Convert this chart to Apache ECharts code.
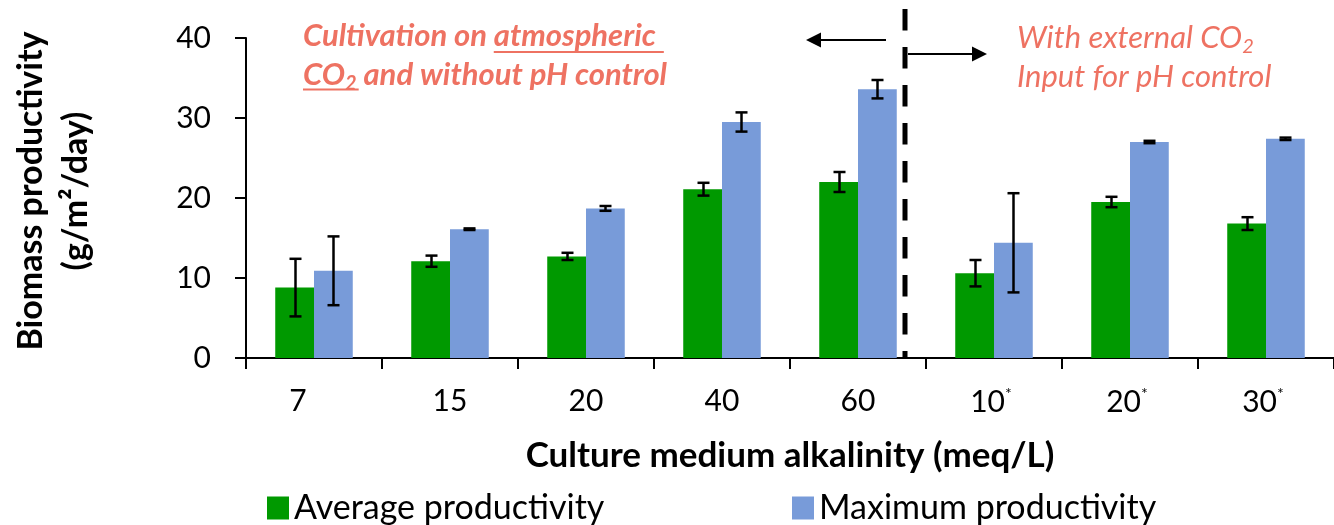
<!DOCTYPE html>
<html>
<head>
<meta charset="utf-8">
<script src="https://cdn.jsdelivr.net/npm/echarts@6/dist/echarts.min.js"></script>
<style>
  html, body { margin: 0; padding: 0; background: #fff; }
  #chart { width: 1334px; height: 525px; }
</style>
</head>
<body>
<div id="chart"></div>
<script>
// Alkalinity levels (meq/L); starred ones were run with external CO2 input
const categories = ['7', '15', '20', '40', '60', '10*', '20*', '30*'];
// Biomass productivity, g/m2/day
const avgProductivity = [8.8, 12.1, 12.7, 21.1, 22.0, 10.6, 19.5, 16.8];
const avgError = [3.6, 0.7, 0.45, 0.8, 1.25, 1.65, 0.65, 0.8];
const maxProductivity = [10.9, 16.1, 18.7, 29.5, 33.6, 14.4, 27.0, 27.4];
const maxError = [4.3, 0.1, 0.3, 1.2, 1.15, 6.2, 0.15, 0.15];
const yTicks = [0, 10, 20, 30, 40];

const FONT = 'Lato';
const GREEN = '#009900';
const BLUE = '#789BD9';
const SALMON = '#EE7262';
const CAT_GAP = 0.43;

const chart = echarts.init(document.getElementById('chart'), null, { renderer: 'canvas' });

// Whiskers drawn on the same band positions as the grouped bars
function errorSeries(values, errors, side) {
  return {
    type: 'custom',
    silent: true,
    z: 10,
    data: values.map((v, i) => [i, v, errors[i]]),
    encode: { x: 0, y: 1 },
    renderItem(params, api) {
      const i = api.value(0), v = api.value(1), e = api.value(2);
      const band = api.size([1, 0])[0];
      const bw = band * (1 - CAT_GAP) / 2;
      const cx = Math.round(api.coord([i, 0])[0] + side * bw / 2) + 0.5;
      const top = api.coord([i, v + e])[1];
      const bot = api.coord([i, v - e])[1];
      const cap = 6;
      const st = { stroke: '#000', lineWidth: 2.5 };
      return {
        type: 'group',
        children: [
          { type: 'line', shape: { x1: cx, y1: top, x2: cx, y2: bot }, style: st },
          { type: 'line', shape: { x1: cx - cap, y1: top, x2: cx + cap, y2: top }, style: st },
          { type: 'line', shape: { x1: cx - cap, y1: bot, x2: cx + cap, y2: bot }, style: st }
        ]
      };
    }
  };
}

const legendText = { fontFamily: FONT, fontSize: 34, color: '#000' };

chart.setOption({
  animation: false,
  grid: { left: 246, right: -10.4, top: 38, bottom: 167 },
  legend: [
    { data: ['Average productivity'], left: 262, top: 486, icon: 'rect', itemWidth: 22, itemHeight: 23, textStyle: legendText, selectedMode: false },
    { data: ['Maximum productivity'], left: 787, top: 486, icon: 'rect', itemWidth: 22, itemHeight: 23, textStyle: legendText, selectedMode: false }
  ],
  xAxis: {
    type: 'category',
    data: categories,
    name: 'Culture medium alkalinity (meq/L)',
    nameLocation: 'middle',
    nameGap: 80,
    nameTextStyle: { fontFamily: FONT, fontWeight: 'bold', fontSize: 35, color: '#000' },
    axisLine: { lineStyle: { color: '#000', width: 2 } },
    axisTick: { show: true, interval: 0, alignWithLabel: false, length: 11, lineStyle: { color: '#000', width: 2 } },
    axisLabel: {
      interval: 0,
      fontFamily: FONT, fontSize: 30, color: '#000', margin: 28,
      formatter: v => v.endsWith('*') ? '{n|' + v.slice(0, -1) + '}{s|*}' : (v === '7' ? '{p|7}' : v),
      rich: {
        n: { fontFamily: FONT, fontSize: 30, color: '#000' },
        s: { fontFamily: FONT, fontSize: 16, color: '#000', padding: [0, 6, 16, 0] },
        p: { fontFamily: FONT, fontSize: 30, color: '#000', padding: [0, 32, 0, 0] }
      }
    }
  },
  yAxis: {
    type: 'value',
    min: yTicks[0],
    max: yTicks[yTicks.length - 1],
    interval: yTicks[1] - yTicks[0],
    axisLine: { show: true, lineStyle: { color: '#000', width: 2 } },
    axisTick: { show: true, length: 11, lineStyle: { color: '#000', width: 2 } },
    splitLine: { show: false },
    axisLabel: { fontFamily: FONT, fontSize: 30, color: '#000', margin: 35 }
  },
  series: [
    { name: 'Average productivity', type: 'bar', data: avgProductivity, barGap: '0%', barCategoryGap: (CAT_GAP * 100) + '%', itemStyle: { color: GREEN } },
    { name: 'Maximum productivity', type: 'bar', data: maxProductivity, barGap: '0%', barCategoryGap: (CAT_GAP * 100) + '%', itemStyle: { color: BLUE } },
    errorSeries(avgProductivity, avgError, -1),
    errorSeries(maxProductivity, maxError, 1)
  ]
});

// Annotations: regime divider, arrows and notes
const measure = (() => {
  const ctx = document.createElement('canvas').getContext('2d');
  return (text, font) => { ctx.font = font; return ctx.measureText(text).width; };
})();

const noteSize = 31;
const subSize = 20;
const boldItalic = 'italic bold ' + noteSize + 'px ' + FONT;
const left1 = 303;
const left2 = 1017;
const leadW = measure('Cultivation on ', boldItalic);
const atmW = measure('atmospheric', boldItalic);
const coW = measure('CO', boldItalic);
const subW = measure('2', 'italic bold ' + subSize + 'px ' + FONT);

const richNote = (weight) => ({
  n: { fontFamily: FONT, fontStyle: 'italic', fontWeight: weight, fontSize: noteSize, fill: SALMON, lineHeight: 38 },
  sub: { fontFamily: FONT, fontStyle: 'italic', fontWeight: weight, fontSize: subSize, fill: SALMON, lineHeight: 38, verticalAlign: 'bottom' }
});

const dividerX = 905;
const black = { stroke: '#000', lineWidth: 2 };

chart.setOption({
  graphic: [
    {
      type: 'text', x: 54, y: 191, rotation: Math.PI / 2,
      style: { text: 'Biomass productivity\n(g/m²/day)', fontFamily: FONT, fontWeight: 'bold', fontSize: 34, lineHeight: 45, fill: '#000', align: 'center', verticalAlign: 'middle' }
    },
    {
      type: 'line', shape: { x1: dividerX, y1: 9, x2: dividerX, y2: 358 },
      style: { stroke: '#000', lineWidth: 5, lineDash: [21.5, 16.5] }, z: 20
    },
    { type: 'line', shape: { x1: 886, y1: 40, x2: 818, y2: 40 }, style: black },
    { type: 'polygon', shape: { points: [[806, 40], [821, 32.5], [821, 47.5]] }, style: { fill: '#000' } },
    { type: 'line', shape: { x1: 908, y1: 54, x2: 975, y2: 54 }, style: black },
    { type: 'polygon', shape: { points: [[987, 54], [972, 46.5], [972, 61.5]] }, style: { fill: '#000' } },
    {
      type: 'text', x: left1, y: 36,
      style: { text: 'Cultivation on atmospheric', font: boldItalic, fill: SALMON, verticalAlign: 'middle' }
    },
    { type: 'rect', shape: { x: left1 + leadW, y: 51, width: atmW + 8, height: 2 }, style: { fill: SALMON } },
    {
      type: 'text', x: left1, y: 75,
      style: { text: '{n|CO}{sub|2}{n| and without pH control}', rich: richNote('bold'), verticalAlign: 'middle' }
    },
    { type: 'rect', shape: { x: left1, y: 88.5, width: coW + subW + 2, height: 2 }, style: { fill: SALMON } },
    {
      type: 'text', x: left2, y: 38,
      style: { text: '{n|With external CO}{sub|2}', rich: richNote('normal'), verticalAlign: 'middle' }
    },
    {
      type: 'text', x: left2, y: 77,
      style: { text: 'Input for pH control', font: 'italic ' + noteSize + 'px ' + FONT, fill: SALMON, verticalAlign: 'middle' }
    }
  ]
});
</script>
</body>
</html>
